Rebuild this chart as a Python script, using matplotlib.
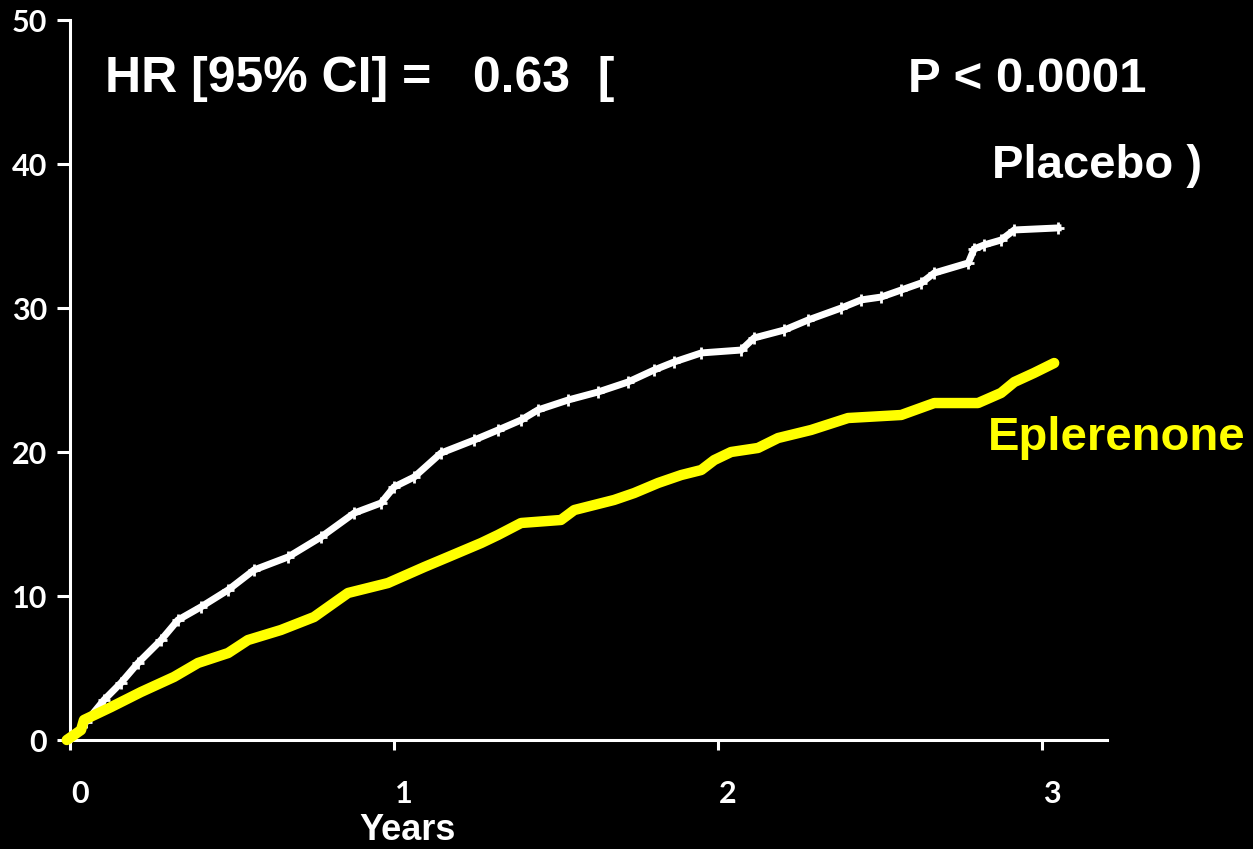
import matplotlib
matplotlib.use("Agg")
import matplotlib.pyplot as plt
import matplotlib.transforms as mtransforms

plt.rcParams['font.family'] = ['Liberation Sans', 'DejaVu Sans']
plt.rcParams['font.weight'] = 'bold'

# cumulative incidence (%) read along the follow-up, years
placebo_t = [0.0, 0.049, 0.105, 0.157, 0.210, 0.281, 0.333, 0.404, 0.488, 0.568,
             0.673, 0.775, 0.877, 0.960, 1.000, 1.062, 1.145, 1.247, 1.321, 1.392,
             1.444, 1.537, 1.630, 1.722, 1.802, 1.864, 1.948, 2.071, 2.111, 2.204,
             2.278, 2.380, 2.441, 2.503, 2.565, 2.627, 2.667, 2.772, 2.790, 2.821,
             2.873, 2.914, 3.049]
placebo_y = [0.0, 1.25, 2.78, 3.96, 5.35, 6.94, 8.33, 9.24, 10.42, 11.81,
             12.71, 14.10, 15.76, 16.46, 17.57, 18.26, 19.93, 20.83, 21.53, 22.22,
             22.92, 23.61, 24.17, 24.86, 25.69, 26.25, 26.88, 27.08, 27.92, 28.47,
             29.17, 30.00, 30.56, 30.76, 31.25, 31.74, 32.43, 33.13, 34.10, 34.38,
             34.72, 35.42, 35.56]

eplerenone_t = [-0.01, 0.034, 0.043, 0.127, 0.219, 0.321, 0.395, 0.488, 0.549, 0.651,
                0.753, 0.827, 0.858, 0.981, 1.093, 1.167, 1.269, 1.321, 1.392, 1.515,
                1.556, 1.679, 1.741, 1.815, 1.886, 1.948, 1.988, 2.040, 2.123, 2.185,
                2.287, 2.401, 2.565, 2.667, 2.802, 2.873, 2.914, 2.975, 3.037]
eplerenone_y = [0.0, 0.69, 1.39, 2.29, 3.33, 4.38, 5.35, 6.04, 6.94, 7.64,
                8.54, 9.72, 10.21, 10.90, 12.01, 12.71, 13.68, 14.24, 15.07, 15.28,
                15.97, 16.67, 17.15, 17.85, 18.40, 18.75, 19.44, 20.00, 20.28, 20.97,
                21.53, 22.36, 22.57, 23.40, 23.40, 24.10, 24.86, 25.49, 26.18]

x_ticks = [0, 1, 2, 3]
y_ticks = [0, 10, 20, 30, 40, 50]

W, H = 1253, 849
fig = plt.figure(figsize=(W / 100, H / 100), dpi=100, facecolor='black')
ax = fig.add_axes([70 / W, 109 / H, 1037 / W, 720 / H])
ax.set_facecolor('black')

ax.plot(placebo_t, placebo_y, color='white', lw=5, marker='+', ms=8, mew=2,
        solid_joinstyle='miter', clip_on=False, zorder=3)
ax.plot(eplerenone_t, eplerenone_y, color='#ffff00', lw=7.5,
        solid_joinstyle='round', solid_capstyle='round', clip_on=False, zorder=4)

ax.set_xlim(0, 3.2)
ax.set_ylim(0, 50)
ax.set_xticks(x_ticks)
ax.set_yticks(y_ticks)

for side in ['top', 'right']:
    ax.spines[side].set_visible(False)
for side in ['left', 'bottom']:
    ax.spines[side].set_color('white')
    ax.spines[side].set_linewidth(2.2)

ax.tick_params(axis='y', colors='white', length=9.5, width=2.2, pad=7,
               labelsize=22)
ax.tick_params(axis='x', colors='white', length=7, width=2.2, pad=22,
               labelsize=22)
for lbl in ax.get_xticklabels() + ax.get_yticklabels():
    lbl.set_fontfamily(['Lato', 'DejaVu Sans'])
    lbl.set_fontweight('bold')

# x labels sit a little right of their ticks
shift = mtransforms.ScaledTranslation(0.1, 0, fig.dpi_scale_trans)
for lbl in ax.get_xticklabels():
    lbl.set_transform(lbl.get_transform() + shift)

fig.text(408 / W, 1 - 840 / H, 'Years', color='white', fontsize=26,
         ha='center', va='baseline')

fig.text(105 / W, 1 - 92 / H, 'HR [95% CI] =   0.63  [', color='white',
         fontsize=36, va='baseline')
fig.text(908 / W, 1 - 92 / H, 'P < 0.0001', color='white', fontsize=35.5,
         va='baseline')
fig.text(992 / W, 1 - 178 / H, 'Placebo )', color='white', fontsize=34,
         va='baseline')
fig.text(988 / W, 1 - 450 / H, 'Eplerenone', color='#ffff00', fontsize=34,
         va='baseline')

fig.savefig('out.png', dpi=100, facecolor='black')
